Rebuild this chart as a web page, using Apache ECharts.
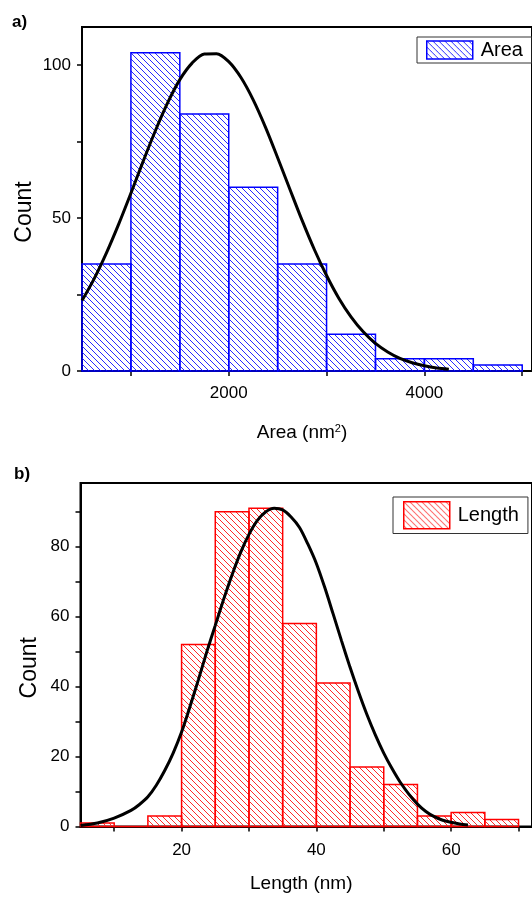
<!DOCTYPE html>
<html>
<head>
<meta charset="utf-8">
<title>Area / Length histograms</title>
<script src="https://cdn.jsdelivr.net/npm/echarts@6.0.0/dist/echarts.min.js"></script>
<style>
  html, body { margin: 0; padding: 0; background: #fff; }
  #chart { width: 532px; height: 898px; }
</style>
</head>
<body>
<div id="chart"></div>
<script>
// a) area histogram (bin start, width 500)
const areaBinStart = [500, 1000, 1500, 2000, 2500, 3000, 3500, 4000, 4500];
const areaBinWidth = 500;
const areaCounts = [35, 104, 84, 60, 35, 12, 4, 4, 2];
// gaussian fit curve
const areaFit = [[500, 23], [625, 30.2], [750, 38.6], [875, 48], [1000, 58.1], [1125, 68.5],
  [1250, 78.5], [1375, 87.6], [1500, 95.2], [1625, 100.6], [1750, 103.6], [1875, 103.7],
  [2000, 101.1], [2125, 95.9], [2250, 88.6], [2375, 79.7], [2500, 69.7], [2625, 59.4],
  [2750, 49.2], [2875, 39.7], [3000, 31.2], [3125, 23.8], [3250, 17.7], [3375, 12.8],
  [3500, 9], [3625, 6.2], [3750, 4.1], [3875, 2.7], [4000, 1.7], [4125, 1.0], [4250, 0.6]];
const areaXTicks = [1000, 2000, 3000, 4000, 5000];
const areaXLabels = [2000, 4000];
const areaYTicks = [0, 25, 50, 75, 100];
const areaYLabels = [0, 50, 100];

// b) length histogram (bin start, width 5)
const lengthBinStart = [5, 10, 15, 20, 25, 30, 35, 40, 45, 50, 55, 60, 65];
const lengthBinWidth = 5;
const lengthCounts = [1, 0, 3, 52, 90, 91, 58, 41, 17, 12, 3, 4, 2];
const lengthFit = [[5, 0.3], [7.5, 1.0], [10, 2.4], [12.5, 4.6], [13.75, 6.3], [15, 8.5],
  [16.25, 11.8], [17.5, 16], [18.75, 21], [20, 27], [21.25, 34.3], [22.5, 42], [23.75, 50],
  [25, 57.5], [26.25, 65], [27.5, 72], [28.75, 78.3], [30, 83.5], [31.25, 87.5], [32.5, 90],
  [33.75, 91], [35, 90.5], [36.25, 88.5], [37.5, 85.5], [38.75, 80.7], [40, 75.2],
  [41.25, 68.3], [42.5, 60.7], [43.75, 53], [45, 45.5], [46.25, 38.5], [47.5, 32],
  [48.75, 26.2], [50, 21], [51.25, 16.5], [52.5, 12.5], [53.75, 9.2], [55, 6.4],
  [56.25, 4.3], [57.5, 2.8], [58.75, 1.8], [60, 1.2], [61.25, 0.7], [62.5, 0.4]];
const lengthXTicks = [10, 20, 30, 40, 50, 60, 70];
const lengthXLabels = [20, 40, 60];
const lengthYTicks = [0, 10, 20, 30, 40, 50, 60, 70, 80, 90];
const lengthYLabels = [0, 20, 40, 60, 80];

const FONT = "'Liberation Sans', Arial, sans-serif";

// crisp 1px diagonal hatch tile  (\\\\), 6px repeat
function makeHatch(color) {
  const c = document.createElement('canvas');
  c.width = 6; c.height = 6;
  const ctx = c.getContext('2d');
  ctx.fillStyle = color;
  for (let i = 0; i < 6; i++) ctx.fillRect(i, i, 1, 1);
  return { image: c, repeat: 'repeat' };
}
const blueHatch = makeHatch('#2a2aff');
const redHatch = makeHatch('#ff2a2a');

function binData(starts, width, counts) {
  return starts.map((s, i) => [s, s + width, counts[i]]);
}

function histRender(fill, stroke) {
  return function (params, api) {
    const p0 = api.coord([api.value(0), api.value(2)]);
    const p1 = api.coord([api.value(1), 0]);
    return {
      type: 'rect',
      shape: { x: p0[0], y: p0[1], width: p1[0] - p0[0], height: p1[1] - p0[1] },
      style: { fill: fill, stroke: stroke, lineWidth: 1.5 }
    };
  };
}

function xAxis(idx, min, max, ticks, labels, name, margin, gap) {
  return {
    type: 'value', gridIndex: idx, min: min, max: max,
    axisLine: { show: true, onZero: false, lineStyle: { color: '#000', width: 2 } },
    axisTick: { show: true, length: 5, customValues: ticks, lineStyle: { color: '#000', width: 1.5 } },
    axisLabel: { customValues: labels, margin: margin, fontFamily: FONT, fontSize: 17, color: '#000',
      formatter: v => String(v) },
    splitLine: { show: false },
    name: name, nameLocation: 'middle', nameGap: gap, nameMoveOverlap: false,
    nameTextStyle: {
      fontFamily: FONT, fontSize: 19, color: '#000', padding: [0, 10, 0, 0],
      rich: { sup: { fontFamily: FONT, fontSize: 11, color: '#000', verticalAlign: 'top' } }
    }
  };
}

function yAxis(idx, max, ticks, labels, gap) {
  return {
    type: 'value', gridIndex: idx, min: 0, max: max,
    axisLine: { show: true, lineStyle: { color: '#000', width: 2 } },
    axisTick: { show: true, length: 5, customValues: ticks, lineStyle: { color: '#000', width: 1.5 } },
    axisLabel: { customValues: labels, margin: 11, fontFamily: FONT, fontSize: 17, color: '#000' },
    splitLine: { show: false },
    name: 'Count', nameLocation: 'middle', nameGap: gap, nameRotate: 90, nameMoveOverlap: false,
    nameTextStyle: { fontFamily: FONT, fontSize: 23, color: '#000', padding: [0, 26, 0, 0] }
  };
}

const chart = echarts.init(document.getElementById('chart'));

chart.setOption({
  backgroundColor: '#fff',
  animation: false,
  title: [
    { text: 'a)', left: 7, top: 9, textStyle: { fontFamily: FONT, fontSize: 17, fontWeight: 'bold', color: '#000' } },
    { text: 'b)', left: 9, top: 461, textStyle: { fontFamily: FONT, fontSize: 17, fontWeight: 'bold', color: '#000' } }
  ],
  legend: [
    {
      data: [{ name: 'Area', icon: 'rect', itemStyle: { color: blueHatch, borderColor: '#0000ff', borderWidth: 1.5 } }],
      left: 417, top: 37, itemWidth: 46, itemHeight: 18, padding: [3, 9, 3, 9],
      borderColor: '#333', borderWidth: 1, selectedMode: false,
      textStyle: { fontFamily: FONT, fontSize: 20, lineHeight: 19, color: '#000', padding: [0, 0, 0, 3] }
    },
    {
      data: [{ name: 'Length', icon: 'rect', itemStyle: { color: redHatch, borderColor: '#ff0000', borderWidth: 1.5 } }],
      left: 393, top: 497, itemWidth: 46, itemHeight: 27, padding: [4, 9, 4, 10],
      borderColor: '#333', borderWidth: 1, selectedMode: false,
      textStyle: { fontFamily: FONT, fontSize: 20, lineHeight: 22, color: '#000', padding: [0, 0, 0, 3] }
    }
  ],
  grid: [
    { left: 82, top: 27, width: 456, height: 344, show: true, borderColor: '#000', borderWidth: 2, backgroundColor: 'transparent' },
    { left: 80.5, top: 483, width: 459.6, height: 343.5, show: true, borderColor: '#000', borderWidth: 2, backgroundColor: 'transparent' }
  ],
  xAxis: [
    xAxis(0, 500, 5100, areaXTicks, areaXLabels, 'Area (nm{sup|2})', 14, 52),
    xAxis(1, 5, 72, lengthXTicks, lengthXLabels, 'Length (nm)', 15, 48)
  ],
  yAxis: [
    yAxis(0, 112.4, areaYTicks, areaYLabels, 46),
    yAxis(1, 98.2, lengthYTicks, lengthYLabels, 39)
  ],
  series: [
    {
      name: 'Area', type: 'custom', xAxisIndex: 0, yAxisIndex: 0,
      data: binData(areaBinStart, areaBinWidth, areaCounts),
      encode: { x: [0, 1], y: 2 },
      itemStyle: { color: blueHatch, borderColor: '#0000ff' },
      renderItem: histRender(blueHatch, '#0000ff')
    },
    {
      name: 'Area fit', type: 'line', xAxisIndex: 0, yAxisIndex: 0,
      data: areaFit, smooth: 0.3, showSymbol: false, z: 5,
      lineStyle: { color: '#000', width: 3 }
    },
    {
      name: 'Length', type: 'custom', xAxisIndex: 1, yAxisIndex: 1,
      data: binData(lengthBinStart, lengthBinWidth, lengthCounts),
      encode: { x: [0, 1], y: 2 },
      itemStyle: { color: redHatch, borderColor: '#ff0000' },
      renderItem: histRender(redHatch, '#ff0000')
    },
    {
      name: 'Length fit', type: 'line', xAxisIndex: 1, yAxisIndex: 1,
      data: lengthFit, smooth: 0.3, showSymbol: false, z: 5,
      lineStyle: { color: '#000', width: 3 }
    }
  ]
});
</script>
</body>
</html>
